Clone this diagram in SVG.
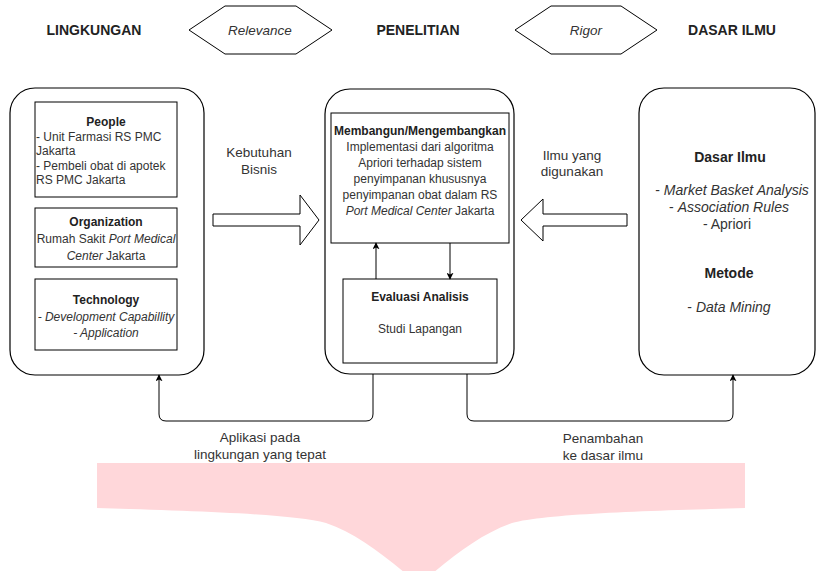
<svg xmlns="http://www.w3.org/2000/svg" width="817" height="571" viewBox="0 0 817 571">
  <defs>
    <marker id="arr" viewBox="0 0 10 10" refX="9" refY="5" markerWidth="7" markerHeight="7" markerUnits="userSpaceOnUse" orient="auto">
      <path d="M0,0 L10,5 L0,10 L2.5,5 Z" fill="#000"/>
    </marker>
    <style>
      text { font-family: "Liberation Sans", Arial, sans-serif; dominant-baseline: central; }
      .hdr { font-size: 14px; font-weight: bold; fill: #222; text-anchor: middle; }
      .lbl { font-size: 13.5px; fill: #333; text-anchor: middle; }
      .b12 { font-size: 12px; font-weight: bold; fill: #222; text-anchor: middle; }
      .t12 { font-size: 12px; fill: #333; }
      .c { text-anchor: middle; }
      .b14 { font-size: 14px; font-weight: bold; fill: #222; text-anchor: middle; }
      .t14 { font-size: 14px; fill: #333; text-anchor: middle; }
      .it { font-style: italic; }
      .big { fill: #fff; stroke: #000; stroke-width: 1.2; }
      .box { fill: #fff; stroke: #000; stroke-width: 1; }
      .hex { fill: #fff; stroke: #000; stroke-width: 1; }
      .conn { fill: none; stroke: #000; stroke-width: 1; }
    </style>
  </defs>

  <!-- Pink funnel shape -->
  <g id="funnel">
    <path d="M97,463 L745,463 L745,508 C640,511 545,514 512,523 C480,534 450,558 419,585 C388,558 358,534 326,523 C293,514 198,511 97,508 Z" fill="#FFD7DA"/>
  </g>

  <!-- Header row -->
  <g id="header-lingkungan"><text class="hdr" x="94" y="30">LINGKUNGAN</text></g>
  <g id="hex-relevance">
    <polygon class="hex" points="189,30 225,6 296,6 332,30 296,54 225,54"/>
    <text class="lbl it" x="260" y="30">Relevance</text>
  </g>
  <g id="header-penelitian"><text class="hdr" x="418" y="30">PENELITIAN</text></g>
  <g id="hex-rigor">
    <polygon class="hex" points="515,30 551,6 621,6 657,30 621,54 551,54"/>
    <text class="lbl it" x="586" y="30">Rigor</text>
  </g>
  <g id="header-dasar"><text class="hdr" x="732" y="30">DASAR ILMU</text></g>

  <!-- Lingkungan -->
  <g id="node-lingkungan">
    <rect class="big" x="10" y="88" width="194" height="287" rx="25" ry="25"/>
  </g>
  <g id="node-people">
    <rect class="box" x="35" y="102" width="142" height="95"/>
    <text class="b12" x="106" y="122">People</text>
    <text class="t12" x="36" y="136.5">- Unit Farmasi RS PMC</text>
    <text class="t12" x="36" y="151">Jakarta</text>
    <text class="t12" x="36" y="165.5">- Pembeli obat di apotek</text>
    <text class="t12" x="36" y="180">RS PMC Jakarta</text>
  </g>
  <g id="node-organization">
    <rect class="box" x="35" y="208" width="142" height="59"/>
    <text class="b12" x="106" y="222">Organization</text>
    <text class="t12 c" x="106" y="239">Rumah Sakit <tspan class="it">Port Medical</tspan></text>
    <text class="t12 c" x="106" y="256"><tspan class="it">Center</tspan> Jakarta</text>
  </g>
  <g id="node-technology">
    <rect class="box" x="35" y="279" width="142" height="71"/>
    <text class="b12" x="106" y="300">Technology</text>
    <text class="t12 c it" x="106" y="317">- Development Capabillity</text>
    <text class="t12 c it" x="106" y="333">- Application</text>
  </g>

  <!-- Penelitian -->
  <g id="node-penelitian">
    <rect class="big" x="325" y="89" width="189" height="285" rx="25" ry="25"/>
  </g>
  <g id="node-membangun">
    <rect class="box" x="331" y="113" width="178" height="130"/>
    <text class="b12" x="420" y="131">Membangun/Mengembangkan</text>
    <text class="t12 c" x="420" y="147">Implementasi dari algoritma</text>
    <text class="t12 c" x="420" y="163">Apriori terhadap sistem</text>
    <text class="t12 c" x="420" y="179">penyimpanan khususnya</text>
    <text class="t12 c" x="420" y="195">penyimpanan obat dalam RS</text>
    <text class="t12 c" x="420" y="211"><tspan class="it">Port Medical Center</tspan> Jakarta</text>
  </g>
  <g id="node-evaluasi">
    <rect class="box" x="343" y="279" width="154" height="84"/>
    <text class="b12" x="420" y="297">Evaluasi Analisis</text>
    <text class="t12 c" x="420" y="329">Studi Lapangan</text>
  </g>

  <!-- Dasar Ilmu -->
  <g id="node-dasar-ilmu">
    <rect class="big" x="639" y="88" width="176" height="287" rx="25" ry="25"/>
    <text class="b14" x="730" y="157">Dasar Ilmu</text>
    <text class="t14" x="732" y="190">- <tspan class="it">Market Basket Analysis</tspan></text>
    <text class="t14" x="729" y="207">- <tspan class="it">Association Rules</tspan></text>
    <text class="t14" x="727" y="224">- Apriori</text>
    <text class="b14" x="729" y="273">Metode</text>
    <text class="t14" x="729" y="307">- <tspan class="it">Data Mining</tspan></text>
  </g>

  <!-- Block arrows -->
  <g id="arrow-kebutuhan">
    <polygon class="box" points="213,214 300,214 300,195 319,220 300,245 300,226 213,226"/>
    <text class="lbl" x="259" y="152">Kebutuhan</text>
    <text class="lbl" x="259" y="169">Bisnis</text>
  </g>
  <g id="arrow-ilmu">
    <polygon class="box" points="627,214 543,214 543,199 521,220 543,241 543,226 627,226"/>
    <text class="lbl" x="572" y="155">Ilmu yang</text>
    <text class="lbl" x="572" y="171">digunakan</text>
  </g>

  <!-- Connectors -->
  <g id="connectors">
    <line class="conn" x1="376" y1="279" x2="376" y2="243" marker-end="url(#arr)"/>
    <line class="conn" x1="450" y1="243" x2="450" y2="279" marker-end="url(#arr)"/>
    <path class="conn" d="M373,374 L373,414 Q373,421 366,421 L166,421 Q159,421 159,414 L159,375" marker-end="url(#arr)"/>
    <path class="conn" d="M467,374 L467,414 Q467,421 474,421 L726,421 Q733,421 733,414 L733,375" marker-end="url(#arr)"/>
    <text class="lbl" x="260" y="437">Aplikasi pada</text>
    <text class="lbl" x="260" y="454">lingkungan yang tepat</text>
    <text class="lbl" x="603" y="438">Penambahan</text>
    <text class="lbl" x="603" y="455">ke dasar ilmu</text>
  </g>
</svg>
